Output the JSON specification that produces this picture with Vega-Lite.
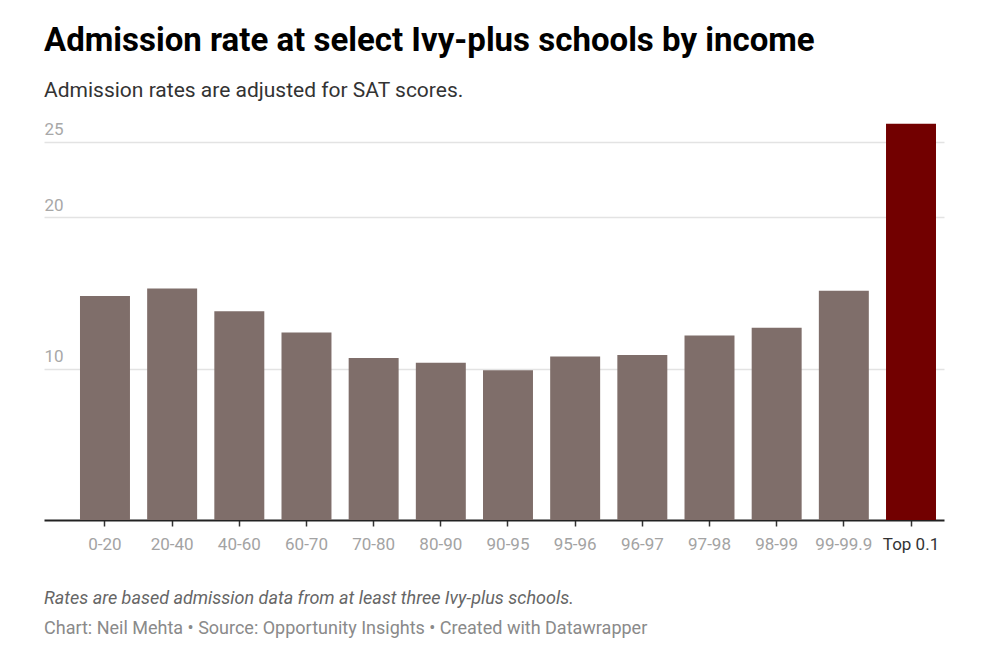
{
  "$schema": "https://vega.github.io/schema/vega-lite/v6.json",
  "padding": {"left": 44, "top": 25, "right": 50, "bottom": 10},
  "background": "white",
  "title": {
    "text": "Admission rate at select Ivy-plus schools by income",
    "subtitle": "Admission rates are adjusted for SAT scores.",
    "anchor": "start",
    "font": "Roboto",
    "fontSize": 33,
    "fontWeight": 700,
    "color": "#000000",
    "subtitleFont": "Roboto",
    "subtitleFontSize": 21,
    "subtitleColor": "#333333",
    "subtitlePadding": 22,
    "offset": 19
  },
  "vconcat": [
    {
      "width": 900,
      "height": 400,
      "data": {
        "values": [
          {"group": "0-20", "rate": 14.8},
          {"group": "20-40", "rate": 15.3},
          {"group": "40-60", "rate": 13.8},
          {"group": "60-70", "rate": 12.4},
          {"group": "70-80", "rate": 10.7},
          {"group": "80-90", "rate": 10.4},
          {"group": "90-95", "rate": 9.9},
          {"group": "95-96", "rate": 10.8},
          {"group": "96-97", "rate": 10.9},
          {"group": "97-98", "rate": 12.2},
          {"group": "98-99", "rate": 12.7},
          {"group": "99-99.9", "rate": 15.15},
          {"group": "Top 0.1", "rate": 26.2}
        ]
      },
      "mark": {"type": "bar"},
      "encoding": {
        "x": {
          "field": "group",
          "type": "nominal",
          "sort": null,
          "scale": {"paddingInner": 0.256, "paddingOuter": 0.3275, "align": 0.818},
          "axis": {
            "title": null,
            "labelAngle": 0,
            "labelFont": "Roboto",
            "labelFontSize": 17,
            "labelColor": {"condition": {"test": "datum.value === 'Top 0.1'", "value": "#333333"}, "value": "#a3a3a3"},
            "labelPadding": 10.5,
            "domainColor": "#222222",
            "domainWidth": 2,
            "ticks": true,
            "tickSize": 6,
            "tickColor": "#333333",
            "tickWidth": 1.5,
            "grid": false
          }
        },
        "y": {
          "field": "rate",
          "type": "quantitative",
          "scale": {"domain": [0, 26.44], "nice": false, "zero": true},
          "axis": {
            "title": null,
            "values": [10, 20, 25],
            "domain": false,
            "ticks": false,
            "tickSize": 0,
            "labelPadding": 0,
            "labelAlign": "left",
            "labelBaseline": "alphabetic",
            "labelOffset": -7,
            "labelFont": "Roboto",
            "labelFontSize": 17,
            "labelColor": "#a8a8a8",
            "grid": true,
            "gridColor": "#e3e3e3",
            "gridWidth": 1.5
          }
        },
        "color": {
          "condition": {"test": "datum.group === 'Top 0.1'", "value": "#720000"},
          "value": "#7f6e6a"
        }
      },
      "title": {
        "text": "Rates are based admission data from at least three Ivy-plus schools.",
        "subtitle": "Chart: Neil Mehta • Source: Opportunity Insights • Created with Datawrapper",
        "orient": "bottom",
        "anchor": "start",
        "font": "Roboto",
        "fontSize": 18,
        "fontStyle": "italic",
        "fontWeight": 400,
        "color": "#666666",
        "subtitleFont": "Roboto",
        "subtitleFontSize": 18,
        "subtitleColor": "#8a8a8a",
        "subtitlePadding": 12,
        "offset": 37
      }
    }
  ],
  "config": {"view": {"stroke": null}, "font": "Roboto"}
}
